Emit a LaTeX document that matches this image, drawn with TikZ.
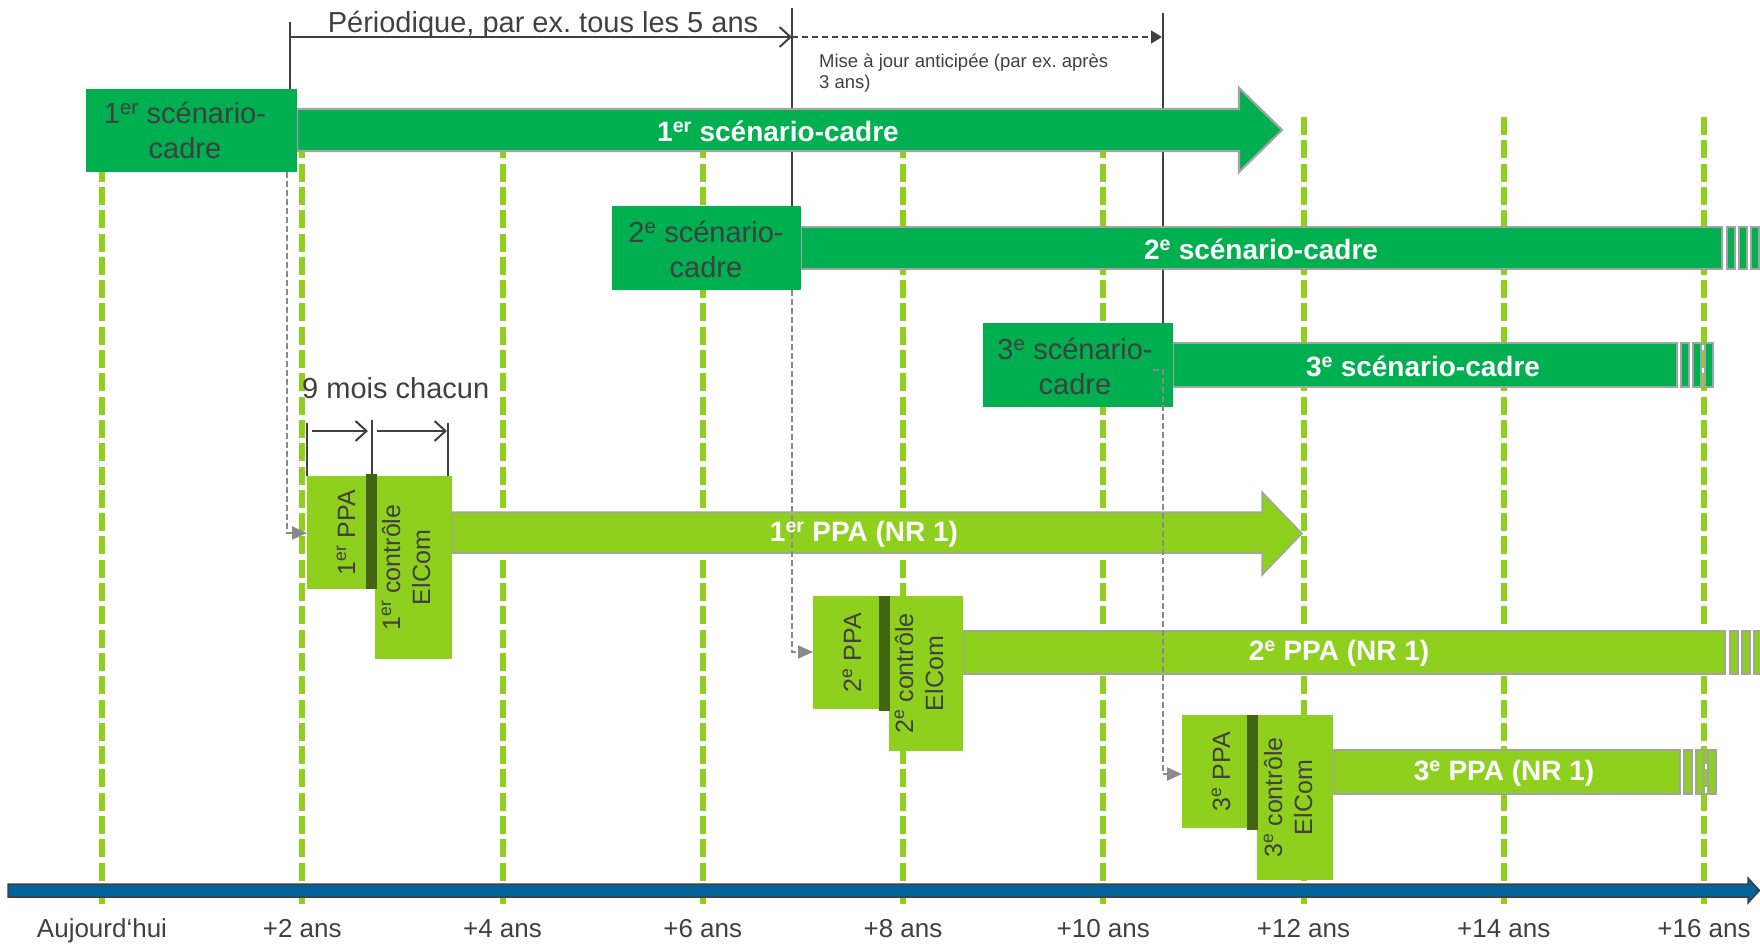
\documentclass[tikz,border=0pt]{standalone}
\usepackage{fontspec}
\setmainfont{Liberation Sans}
\usetikzlibrary{arrows.meta}
\frenchspacing

\definecolor{dkgreen}{HTML}{00AF50}
\definecolor{ltgreen}{HTML}{8FD01E}
\definecolor{sepgreen}{HTML}{436511}
\definecolor{axisblue}{HTML}{00629B}
\definecolor{rimgrey}{HTML}{A3A3A3}
\definecolor{txtgrey}{HTML}{404040}
\definecolor{conngrey}{HTML}{8A8A8A}

\newcommand{\fbig}{\fontsize{29bp}{35bp}\selectfont}
\newcommand{\fbar}{\fontsize{28bp}{34bp}\selectfont\bfseries}
\newcommand{\frot}{\fontsize{25bp}{30bp}\selectfont}
\newcommand{\faxis}{\fontsize{26bp}{31bp}\selectfont}
\newcommand{\fsmall}{\fontsize{18.5bp}{21bp}\selectfont}

\begin{document}
\begin{tikzpicture}[x=1bp,y=-1bp,
  gridline/.style={draw=ltgreen, line width=6bp, dash pattern=on 18bp off 5.3bp},
  guide/.style={draw=txtgrey, line width=2bp},
  conn/.style={draw=conngrey, line width=2bp, dash pattern=on 6bp off 3bp,
               -{Triangle[length=15bp,width=13bp]}},
  darkbox/.style={fill=dkgreen, inner sep=0, outer sep=0, anchor=north west},
  lightbox/.style={fill=ltgreen, inner sep=0, outer sep=0, anchor=north west},
  sepbar/.style={fill=sepgreen, inner sep=0, outer sep=0, anchor=north west},
  darkbar/.style={fill=dkgreen, draw=rimgrey, line width=2.2bp},
  lightbar/.style={fill=ltgreen, draw=rimgrey, line width=1.5bp},
  boxtext/.style={text=txtgrey, inner sep=0, align=center, font=\fbig},
  bartext/.style={text=white, inner sep=0, font=\fbar},
  rottext/.style={text=txtgrey, inner sep=0, align=center, rotate=90, font=\frot},
  axislabel/.style={text=txtgrey, inner sep=0, anchor=base, font=\faxis},
  barb/.style={-{Straight Barb[length=11bp,width=20bp,line width=2bp]}}
]
\useasboundingbox (0,0) rectangle (1760,947);

% year grid
\foreach \i in {0,...,8}
  \draw[gridline] (102+200.25*\i,117) -- (102+200.25*\i,907);

% time axis
\draw[fill=axisblue, draw=txtgrey, line width=1.5bp]
  (8,884) -- (1748,884) -- (1748,878) -- (1759.5,890.5) -- (1748,903)
  -- (1748,897) -- (8,897) -- cycle;
\foreach \lab [count=\i from 0] in {Aujourd‘hui,+2 ans,+4 ans,+6 ans,+8 ans,+10 ans,+12 ans,+14 ans,+16 ans}
  \node[axislabel] (t\i) at (102+200.25*\i,937) {\lab};

% revision markers
\coordinate (m1top) at (290,22);
\coordinate (m2top) at (792,8);
\coordinate (m3top) at (1163,13);
\draw[guide] (m1top) -- (290,100);
\draw[guide] (m2top) -- (792,220);
\draw[guide] (m3top) -- (1163,330);
\draw[guide, barb] (290,37) -- (792,37);
\draw[guide, dash pattern=on 6bp off 4bp, -{Triangle[length=11bp,width=13bp]}] (792,37) -- (1162,37);
\node[text=txtgrey, inner sep=0, anchor=base, font=\fbig] (period) at (543,32) {Périodique, par ex. tous les 5 ans};
\node[text=txtgrey, inner sep=0, anchor=base west, font=\fsmall] (upd1) at (819,67) {Mise à jour anticipée (par ex. après};
\node[text=txtgrey, inner sep=0, anchor=base west, font=\fsmall] (upd2) at (819,88) {3 ans)};

% scenario-cadre arrows and bars
\draw[darkbar] (297,109) -- (1239,109) -- (1239,88) -- (1282,130) -- (1239,172) -- (1239,151) -- (297,151) -- cycle;
\draw[darkbar] (801,227) rectangle (1722,269);
\foreach \s in {1727,1739,1751} \draw[darkbar] (\s,227) rectangle (\s+8,269);
\draw[darkbar] (1173,343) rectangle (1677,387);
\foreach \s in {1681,1693,1705} \draw[darkbar] (\s,343) rectangle (\s+8,387);

\node[darkbox, minimum width=211bp, minimum height=83bp] (box1) at (86,89) {};
\node[darkbox, minimum width=189bp, minimum height=84bp] (box2) at (612,206) {};
\node[darkbox, minimum width=190bp, minimum height=84bp] (box3) at (983,323) {};

% PPA arrows and bars
\draw[lightbar] (452,512) -- (1262,512) -- (1262,492) -- (1302,533.5) -- (1262,575) -- (1262,553) -- (452,553) -- cycle;
\draw[lightbar] (963,631) rectangle (1725,674);
\foreach \s in {1730,1742,1754} \draw[lightbar] (\s,631) rectangle (\s+8,674);
\draw[lightbar] (1333,750) rectangle (1680,794);
\foreach \s in {1684,1696,1708} \draw[lightbar] (\s,750) rectangle (\s+8,794);

\node[lightbox, minimum width=59bp, minimum height=113bp] (ppa1) at (307,476) {};
\node[lightbox, minimum width=77bp, minimum height=183bp] (ctl1) at (375,476) {};
\node[sepbar, minimum width=11bp, minimum height=115bp] (sep1) at (366,474) {};
\node[lightbox, minimum width=66bp, minimum height=113bp] (ppa2) at (813,596) {};
\node[lightbox, minimum width=74bp, minimum height=155bp] (ctl2) at (889,596) {};
\node[sepbar, minimum width=11bp, minimum height=115bp] (sep2) at (879,596) {};
\node[lightbox, minimum width=65bp, minimum height=113bp] (ppa3) at (1182,715) {};
\node[lightbox, minimum width=76bp, minimum height=165bp] (ctl3) at (1257,715) {};
\node[sepbar, minimum width=11bp, minimum height=115bp] (sep3) at (1247,715) {};

% links from each scenario-cadre to its PPA
\draw[conn] (box1.south -| 287,0) -- (287,533) -- (ppa1.west |- 0,533);
\draw[conn] (box2.south -| 792,0) -- (792,652) -- (ppa2.west |- 0,652);
\draw[conn] (1153,370) -- (1163,370) -- (1163,774) -- (ppa3.west |- 0,774);

% nine-month spans
\draw[guide] (307,423) -- (ppa1.north west);
\draw[guide] (372,420) -- (372,474);
\draw[guide] (448,423) -- (448,476);
\draw[guide, barb] (312,431) -- (368,431);
\draw[guide, barb] (377,431) -- (447,431);
\node[text=txtgrey, inner sep=0, anchor=base west, font=\fbig] (nine) at (302,398) {9 mois chacun};

% texts
\node[boxtext] (box1txt) at (185,130.5) {1\textsuperscript{er} scénario-\\cadre};
\node[boxtext] (box2txt) at (706,249) {2\textsuperscript{e} scénario-\\cadre};
\node[boxtext] (box3txt) at (1075,366) {3\textsuperscript{e} scénario-\\cadre};

\node[bartext] (bar1txt) at (778,131) {1\textsuperscript{er} scénario-cadre};
\node[bartext] (bar2txt) at (1261,249) {2\textsuperscript{e} scénario-cadre};
\node[bartext] (bar3txt) at (1423,366) {3\textsuperscript{e} scénario-cadre};
\node[bartext] (ppa1txt) at (864,534) {1\textsuperscript{er} PPA (NR 1)};
\node[bartext] (ppa2txt) at (1339,653) {2\textsuperscript{e} PPA (NR 1)};
\node[bartext] (ppa3txt) at (1504,773) {3\textsuperscript{e} PPA (NR 1)};

\node[rottext, anchor=base] (ppa1lab) at (355,532.5) {1\textsuperscript{er} PPA};
\node[rottext, anchor=base] (ppa2lab) at (861,652.5) {2\textsuperscript{e} PPA};
\node[rottext, anchor=base] (ppa3lab) at (1230,771.5) {3\textsuperscript{e} PPA};
\node[rottext] (ctl1lab) at (406,567.5) {1\textsuperscript{er} contrôle\\ElCom};
\node[rottext] (ctl2lab) at (919,673.5) {2\textsuperscript{e} contrôle\\ElCom};
\node[rottext] (ctl3lab) at (1288,797.5) {3\textsuperscript{e} contrôle\\ElCom};
\end{tikzpicture}
\end{document}
